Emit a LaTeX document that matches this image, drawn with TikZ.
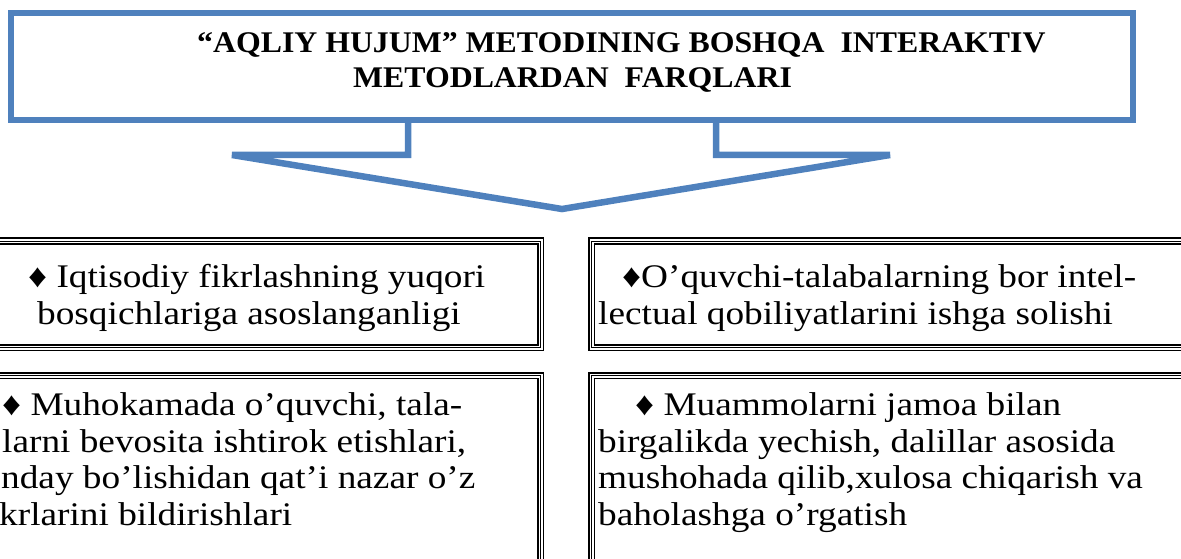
\documentclass[tikz,border=0pt]{standalone}
\usepackage{fontspec}
\setmainfont[FakeStretch=1.13]{Liberation Serif}
\newfontfamily\headfont[FakeStretch=1.06]{Liberation Serif}
\usepackage{tikz}
\definecolor{calloutblue}{RGB}{79,129,189}

\begin{document}
\begin{tikzpicture}[x=1pt, y=-1pt,
  head/.style={inner sep=0pt, anchor=base west, font=\headfont\fontsize{30}{35}\selectfont\bfseries},
  item/.style={inner sep=0pt, anchor=base west, font=\fontsize{33}{37}\selectfont},
  tribox/.style={draw=black, line width=7.2pt,
    postaction={draw=white, line width=4pt},
    postaction={draw=black, line width=1pt}},
  callout/.style={draw=calloutblue, line width=6.5pt}]
  \useasboundingbox (0,0) rectangle (1181,559);
  \clip (0,0) rectangle (1181,559);

  \draw[callout] (11,13) rectangle (1133,120);
  \draw[callout] (408,120) -- (408,155) -- (232,155) -- (562,209)
    -- (890,155) -- (716,155) -- (716,120);
  \node[head] (T1) at (197,53) {“AQLIY HUJUM” METODINING BOSHQA\ \ INTERAKTIV};
  \node[head] (T2) at (353,88) {METODLARDAN\ \ FARQLARI};

  \draw[tribox] (-20,241) rectangle (540.5,347.5);
  \draw[tribox] (591.5,241) rectangle (1200,347.5);
  \draw[tribox] (-20,375.5) rectangle (540.5,600);
  \draw[tribox] (591.5,375.5) rectangle (1200,600);

  \node[item] (A1) at (28,287) {♦ Iqtisodiy fikrlashning yuqori};
  \node[item] (A2) at (37,324) {bosqichlariga asoslanganligi};

  \node[item] (B1) at (622,287) {♦O’quvchi-talabalarning bor intel-};
  \node[item] (B2) at (598,324) {lectual qobiliyatlarini ishga solishi};

  \node[item] (C1) at (2,415) {♦ Muhokamada o’quvchi, tala-};
  \node[item] (C2) at (2,452) {larni bevosita ishtirok etishlari,};
  \node[item] (C3) at (1,488) {nday bo’lishidan qat’i nazar o’z};
  \node[item] (C4) at (-1,525) {krlarini bildirishlari};

  \node[item] (D1) at (635,415) {♦ Muammolarni jamoa bilan};
  \node[item] (D2) at (598,452) {birgalikda yechish, dalillar asosida};
  \node[item] (D3) at (598,488) {mushohada qilib,xulosa chiqarish va};
  \node[item] (D4) at (598,525) {baholashga o’rgatish};
\end{tikzpicture}
\end{document}
